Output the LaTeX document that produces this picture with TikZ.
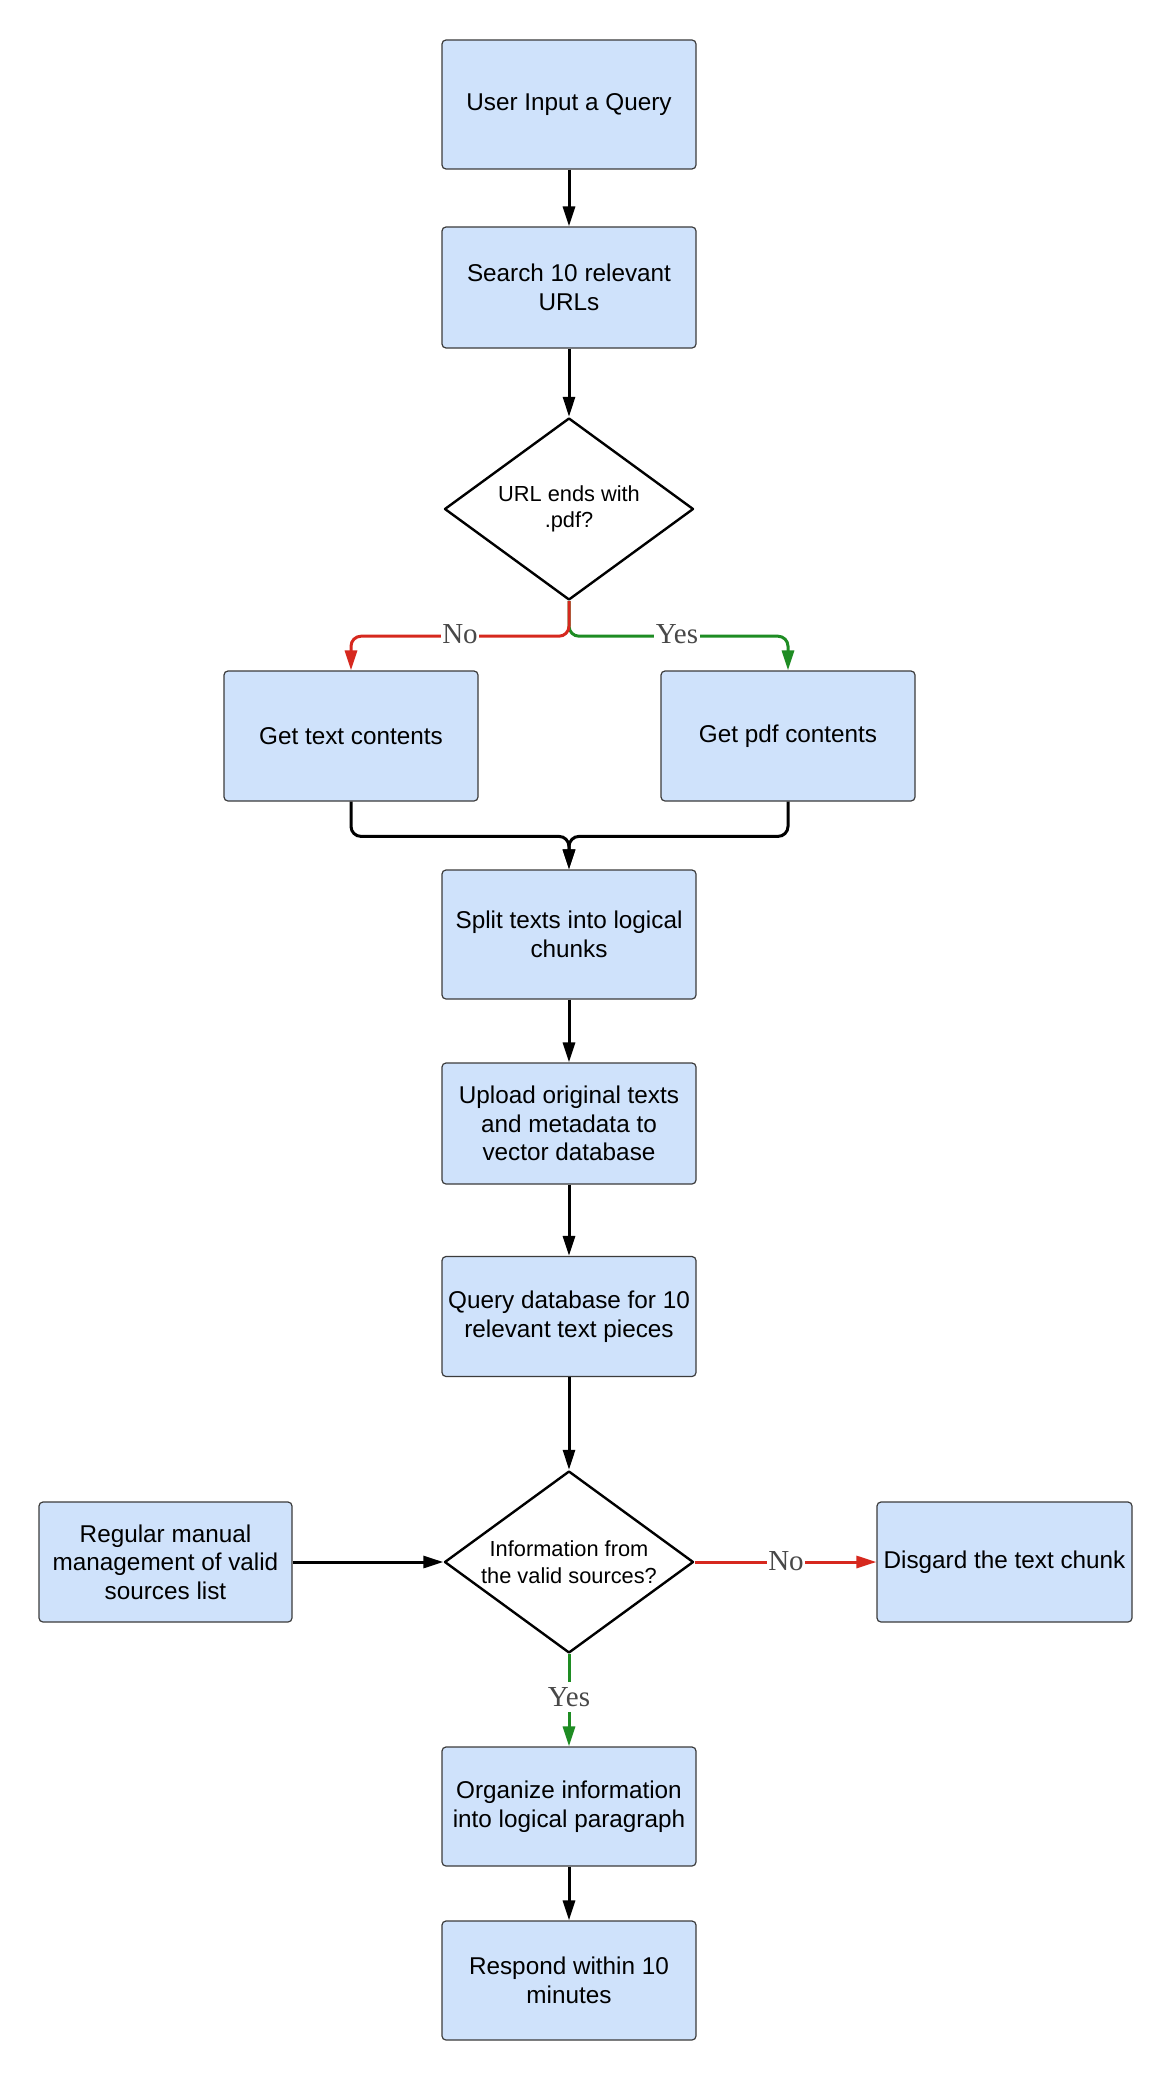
\documentclass[tikz,border=0pt]{standalone}
\usepackage{fontspec}
\setmainfont{Liberation Sans}
\newfontfamily\labelfont{Liberation Serif}
\usetikzlibrary{arrows.meta,shapes.geometric,calc}
\definecolor{boxfill}{RGB}{207,226,251}
\definecolor{boxline}{RGB}{60,60,60}
\definecolor{nored}{RGB}{214,40,30}
\definecolor{yesgreen}{RGB}{30,140,35}
\definecolor{lblgray}{RGB}{72,72,72}
\tikzset{
  procbox/.style={rectangle, rounded corners=4pt, draw=boxline, line width=1.2pt,
    fill=boxfill, minimum width=254pt, align=center, inner sep=0pt,
    font=\fontsize{24.3pt}{28.5pt}\selectfont},
  decbox/.style={diamond, draw=black, line width=2.4pt, line join=round, fill=white,
    minimum width=249pt, minimum height=182pt, inner xsep=-40pt, inner ysep=-12pt, align=center,
    font=\fontsize{21.8pt}{26.5pt}\selectfont},
  conn/.style={line width=3pt, draw=black, -{Triangle[length=20pt,width=12pt]}},
  edgelbl/.style={fill=white, inner sep=1.5pt, text=lblgray,
    font=\labelfont\fontsize{29pt}{30pt}\selectfont}
}
\begin{document}
\begin{tikzpicture}[x=1pt,y=-1pt]
\useasboundingbox[fill=white] (0,0) rectangle (1173,2084);
\node[procbox, minimum height=129pt] (user) at (569,104.5) {User Input a Query};
\node[procbox, minimum height=121pt] (search) at (569,287.5) {Search 10 relevant\\URLs};
\node[decbox] (d1) at (569,509) {URL ends with\\.pdf?};
\node[procbox, minimum height=130pt] (gettext) at (351,736) {Get text contents};
\node[procbox, minimum height=130pt] (getpdf) at (788,736) {Get pdf contents};
\node[procbox, minimum height=129pt] (split) at (569,934.5) {Split texts into logical\\chunks};
\node[procbox, minimum height=121pt] (upload) at (569,1123.5) {Upload original texts\\and metadata to\\vector database};
\node[procbox, minimum height=120pt] (query) at (569,1316.5) {Query database for 10\\relevant text pieces};
\node[decbox] (d2) at (569,1562) {Information from\\the valid sources?};
\node[procbox, minimum height=120pt, minimum width=253pt] (regular) at (165.5,1562) {Regular manual\\management of valid\\sources list};
\node[procbox, minimum height=120pt, minimum width=255pt] (disgard) at (1004.5,1562) {Disgard the text chunk};
\node[procbox, minimum height=119pt] (organize) at (569,1806.5) {Organize information\\into logical paragraph};
\node[procbox, minimum height=119pt] (respond) at (569,1980.5) {Respond within 10\\minutes};

\draw[conn] (user) -- (search);
\draw[conn] (search) -- (d1);
\draw[conn, draw=yesgreen, color=yesgreen, rounded corners=10pt] (d1.south) -- ([yshift=-35pt]d1.south) -| (getpdf.north);
\draw[conn, draw=nored, color=nored, rounded corners=10pt] (d1.south) -- ([yshift=-35pt]d1.south) -| (gettext.north);
\draw[conn, rounded corners=10pt] (gettext.south) |- ([yshift=33pt]split.north) -- (split.north);
\draw[conn, rounded corners=10pt] (getpdf.south) |- ([yshift=33pt]split.north) -- (split.north);
\draw[conn] (split) -- (upload);
\draw[conn] (upload) -- (query);
\draw[conn] (query) -- (d2);
\draw[conn] (regular) -- (d2);
\draw[conn, draw=nored, color=nored] (d2) -- (disgard);
\draw[conn, draw=yesgreen, color=yesgreen] (d2) -- (organize);
\draw[conn] (organize) -- (respond);

\node[edgelbl] (lno1) at (460,634) {No};
\node[edgelbl] (lyes1) at (677,634) {Yes};
\node[edgelbl] (lno2) at (786,1561) {No};
\node[edgelbl, inner ysep=5pt] (lyes2) at (569,1697) {Yes};
\end{tikzpicture}
\end{document}
